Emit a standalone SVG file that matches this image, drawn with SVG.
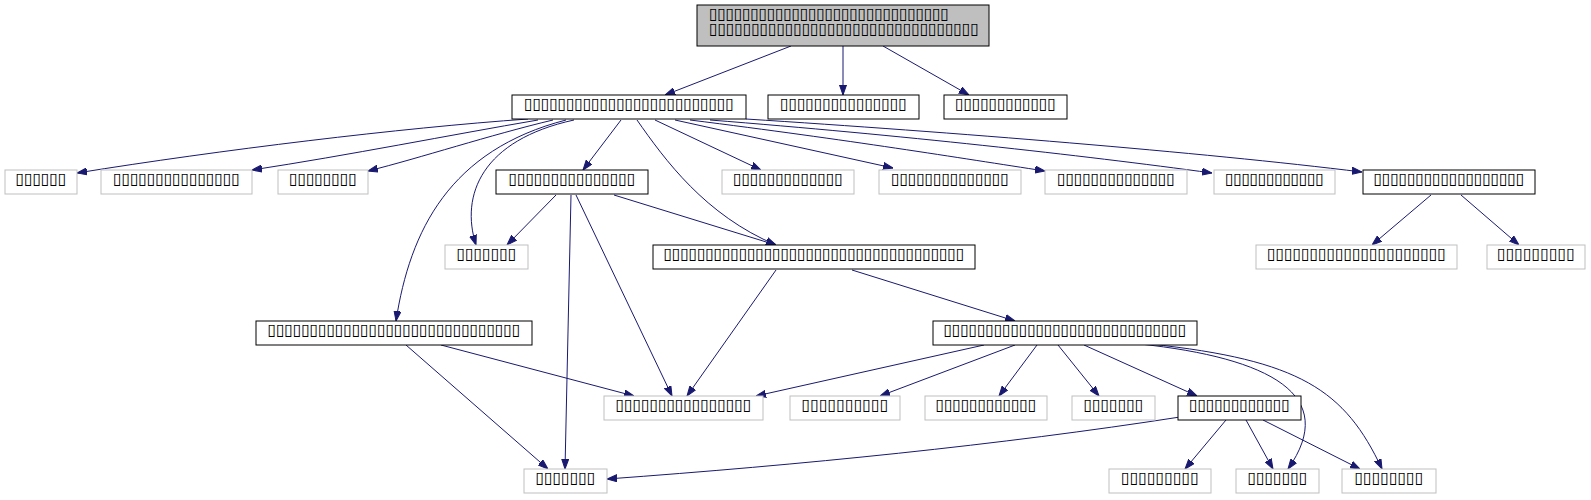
<svg xmlns="http://www.w3.org/2000/svg" width="1591" height="500" viewBox="0 0 1591 500">
<style>
.n rect{fill:#fff;stroke:#000;stroke-width:1}
.g rect{fill:#fff;stroke:#bfbfbf;stroke-width:1}
.top rect{fill:#bfbfbf;stroke:#000;stroke-width:1}
text{font-family:"DejaVu Sans",sans-serif;font-size:16px;fill:#000;text-anchor:middle}
.l{text-anchor:start}
#edges path{fill:none;stroke:#191970;stroke-width:1;marker-end:url(#ah)}
</style>
<defs>
<marker id="ah" markerUnits="userSpaceOnUse" markerWidth="10" markerHeight="8" refX="10" refY="4" orient="auto">
<path d="M0,0.5 L10,4 L0,7.5 z" fill="#191970" stroke="#191970" stroke-width="1"/>
</marker>
</defs>
<rect width="1591" height="500" fill="#fff"/>
<g id="edges">
<path d="M791,46 L665,95"/>
<path d="M843,46 L843,95"/>
<path d="M883,46 L969,95"/>
<path d="M528,119 C400,128 220,150 77,173"/>
<path d="M538,120 C450,135 350,155 252,170"/>
<path d="M553,120 C490,135 420,158 368,171"/>
<path d="M574,120 C482,140 460,195 476,245"/>
<path d="M566,120 C450,150 410,230 396,321"/>
<path d="M621,120 L583,170"/>
<path d="M637,120 C665,160 705,215 776,245"/>
<path d="M655,120 L761,170"/>
<path d="M675,120 L893,168"/>
<path d="M690,120 C850,140 960,158 1045,171"/>
<path d="M710,120 C900,135 1080,155 1212,173"/>
<path d="M746,119 C950,132 1200,152 1362,172"/>
<path d="M556,195 L507,245"/>
<path d="M614,195 L776,245"/>
<path d="M576,195 L672,396"/>
<path d="M571,195 L565,469"/>
<path d="M1431,195 L1372,245"/>
<path d="M1461,195 L1519,245"/>
<path d="M776,270 L687,396"/>
<path d="M852,270 L1015,321"/>
<path d="M441,345 L634,396"/>
<path d="M406,345 L548,469"/>
<path d="M984,345 L756,396"/>
<path d="M1015,345 L880,396"/>
<path d="M1037,345 L999,396"/>
<path d="M1058,345 L1099,396"/>
<path d="M1084,345 L1197,396"/>
<path d="M1140,344 C1270,358 1340,395 1288,469"/>
<path d="M1150,344 C1300,360 1345,390 1382,469"/>
<path d="M1180,417 C1000,445 800,465 607,479"/>
<path d="M1226,420 L1185,469"/>
<path d="M1246,420 L1273,469"/>
<path d="M1263,420 L1360,469"/>
</g>
<g id="top" class="top"><rect x="697" y="5" width="292" height="41"/>
<text class="l" x="709" y="18.5" textLength="240" lengthAdjust="spacing">▯▯▯▯▯▯▯▯▯▯▯▯▯▯▯▯▯▯▯▯▯▯▯▯▯▯▯▯▯</text>
<text class="l" x="709" y="33.5" textLength="270" lengthAdjust="spacing">▯▯▯▯▯▯▯▯▯▯▯▯▯▯▯▯▯▯▯▯▯▯▯▯▯▯▯▯▯▯▯▯</text></g>
<g id="A" class="n"><rect x="512" y="95" width="234" height="24"/><text x="629" y="109" textLength="210" lengthAdjust="spacing">▯▯▯▯▯▯▯▯▯▯▯▯▯▯▯▯▯▯▯▯▯▯▯▯▯</text></g>
<g id="B" class="n"><rect x="768" y="95" width="151" height="24"/><text x="843.5" y="109" textLength="127" lengthAdjust="spacing">▯▯▯▯▯▯▯▯▯▯▯▯▯▯▯</text></g>
<g id="C" class="n"><rect x="944" y="95" width="123" height="24"/><text x="1005.5" y="109" textLength="101" lengthAdjust="spacing">▯▯▯▯▯▯▯▯▯▯▯▯</text></g>
<g id="D1" class="g"><rect x="5" y="170" width="72" height="24"/><text x="41" y="184" textLength="51" lengthAdjust="spacing">▯▯▯▯▯▯</text></g>
<g id="D2" class="g"><rect x="101" y="170" width="151" height="24"/><text x="176.5" y="184" textLength="127" lengthAdjust="spacing">▯▯▯▯▯▯▯▯▯▯▯▯▯▯▯</text></g>
<g id="D3" class="g"><rect x="278" y="170" width="90" height="24"/><text x="323" y="184" textLength="68" lengthAdjust="spacing">▯▯▯▯▯▯▯▯</text></g>
<g id="E" class="n"><rect x="496" y="170" width="152" height="24"/><text x="572" y="184" textLength="127" lengthAdjust="spacing">▯▯▯▯▯▯▯▯▯▯▯▯▯▯▯</text></g>
<g id="D4" class="g"><rect x="722" y="170" width="132" height="24"/><text x="788" y="184" textLength="110" lengthAdjust="spacing">▯▯▯▯▯▯▯▯▯▯▯▯▯</text></g>
<g id="D5" class="g"><rect x="879" y="170" width="142" height="24"/><text x="950" y="184" textLength="118" lengthAdjust="spacing">▯▯▯▯▯▯▯▯▯▯▯▯▯▯</text></g>
<g id="D6" class="g"><rect x="1045" y="170" width="142" height="24"/><text x="1116" y="184" textLength="118" lengthAdjust="spacing">▯▯▯▯▯▯▯▯▯▯▯▯▯▯</text></g>
<g id="D7" class="g"><rect x="1214" y="170" width="121" height="24"/><text x="1274.5" y="184" textLength="99" lengthAdjust="spacing">▯▯▯▯▯▯▯▯▯▯▯▯</text></g>
<g id="F" class="n"><rect x="1363" y="170" width="172" height="24"/><text x="1449" y="184" textLength="151" lengthAdjust="spacing">▯▯▯▯▯▯▯▯▯▯▯▯▯▯▯▯▯▯</text></g>
<g id="G" class="g"><rect x="445" y="245" width="83" height="24"/><text x="486.5" y="259" textLength="60" lengthAdjust="spacing">▯▯▯▯▯▯▯</text></g>
<g id="H" class="n"><rect x="653" y="245" width="322" height="24"/><text x="814" y="259" textLength="301" lengthAdjust="spacing">▯▯▯▯▯▯▯▯▯▯▯▯▯▯▯▯▯▯▯▯▯▯▯▯▯▯▯▯▯▯▯▯▯▯▯▯</text></g>
<g id="F1" class="g"><rect x="1256" y="245" width="201" height="24"/><text x="1356.5" y="259" textLength="179" lengthAdjust="spacing">▯▯▯▯▯▯▯▯▯▯▯▯▯▯▯▯▯▯▯▯▯</text></g>
<g id="F2" class="g"><rect x="1487" y="245" width="98" height="24"/><text x="1536" y="259" textLength="78" lengthAdjust="spacing">▯▯▯▯▯▯▯▯▯</text></g>
<g id="I" class="n"><rect x="256" y="321" width="276" height="24"/><text x="394" y="335" textLength="253" lengthAdjust="spacing">▯▯▯▯▯▯▯▯▯▯▯▯▯▯▯▯▯▯▯▯▯▯▯▯▯▯▯▯▯▯</text></g>
<g id="J" class="n"><rect x="933" y="321" width="264" height="24"/><text x="1065" y="335" textLength="243" lengthAdjust="spacing">▯▯▯▯▯▯▯▯▯▯▯▯▯▯▯▯▯▯▯▯▯▯▯▯▯▯▯▯▯</text></g>
<g id="K" class="g"><rect x="604" y="396" width="159" height="24"/><text x="683.5" y="410" textLength="136" lengthAdjust="spacing">▯▯▯▯▯▯▯▯▯▯▯▯▯▯▯▯</text></g>
<g id="L" class="g"><rect x="790" y="396" width="110" height="24"/><text x="845" y="410" textLength="87" lengthAdjust="spacing">▯▯▯▯▯▯▯▯▯▯</text></g>
<g id="M" class="g"><rect x="925" y="396" width="122" height="24"/><text x="986" y="410" textLength="101" lengthAdjust="spacing">▯▯▯▯▯▯▯▯▯▯▯▯</text></g>
<g id="N" class="g"><rect x="1072" y="396" width="83" height="24"/><text x="1113.5" y="410" textLength="60" lengthAdjust="spacing">▯▯▯▯▯▯▯</text></g>
<g id="O" class="n"><rect x="1178" y="396" width="123" height="24"/><text x="1239.5" y="410" textLength="101" lengthAdjust="spacing">▯▯▯▯▯▯▯▯▯▯▯▯</text></g>
<g id="P" class="g"><rect x="524" y="469" width="83" height="24"/><text x="565.5" y="483" textLength="60" lengthAdjust="spacing">▯▯▯▯▯▯▯</text></g>
<g id="Q" class="g"><rect x="1109" y="469" width="102" height="24"/><text x="1160" y="483" textLength="78" lengthAdjust="spacing">▯▯▯▯▯▯▯▯▯</text></g>
<g id="R" class="g"><rect x="1236" y="469" width="83" height="24"/><text x="1277.5" y="483" textLength="60" lengthAdjust="spacing">▯▯▯▯▯▯▯</text></g>
<g id="S" class="g"><rect x="1342" y="469" width="94" height="24"/><text x="1389" y="483" textLength="69" lengthAdjust="spacing">▯▯▯▯▯▯▯▯</text></g>
</svg>
